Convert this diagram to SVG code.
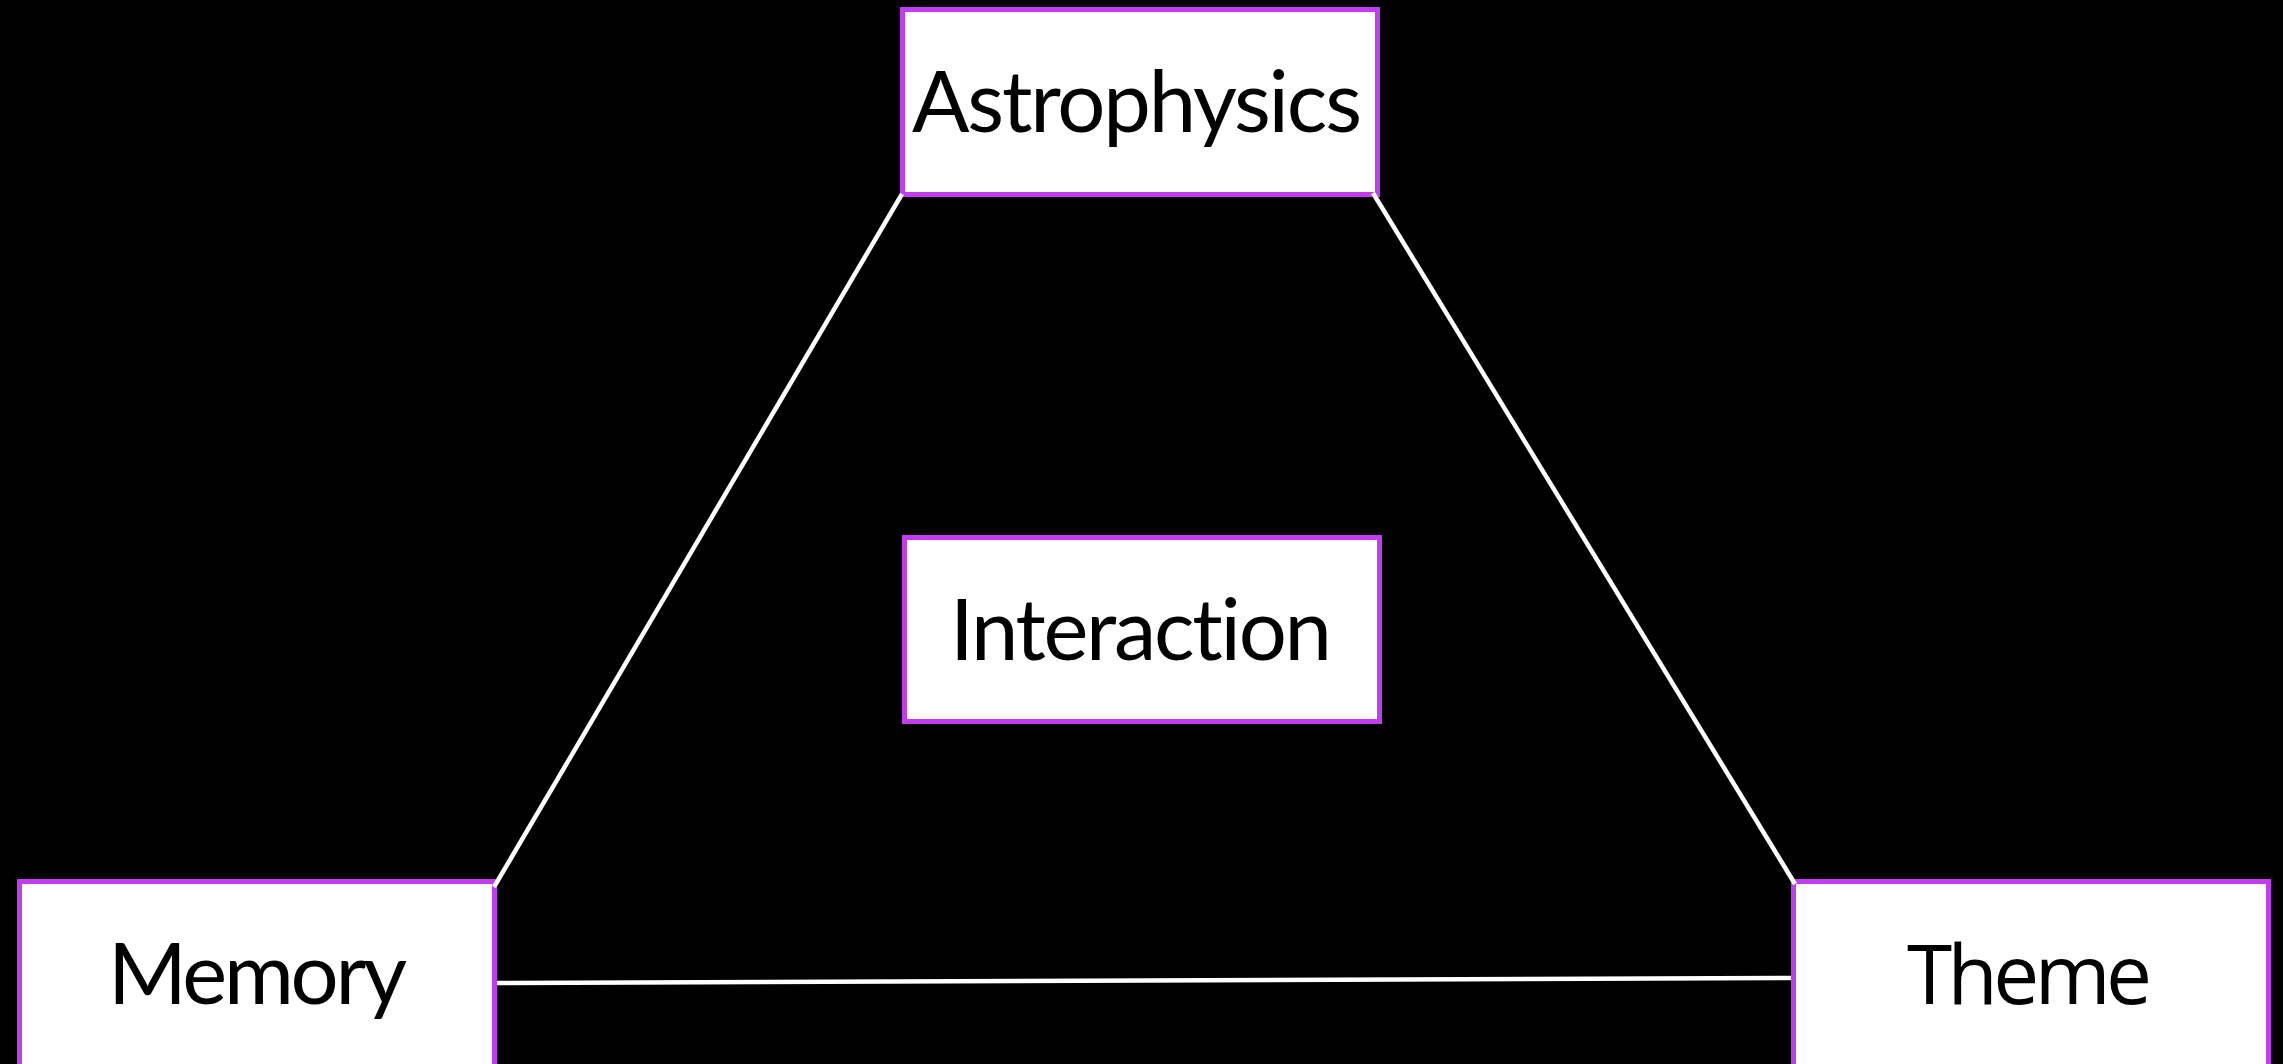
<svg xmlns="http://www.w3.org/2000/svg" width="2283" height="1064" viewBox="0 0 2283 1064">
<style>
.box{fill:#ffffff;stroke:#c03ef0;stroke-width:5}
.lbl{font-family:Lato,"Open Sans","Liberation Sans",sans-serif;font-size:85px;fill:#000000;text-anchor:middle;font-variant-ligatures:none;font-feature-settings:"liga" 0,"clig" 0}
.lbl2{font-family:"Open Sans","Noto Sans","Liberation Sans",sans-serif;font-size:82px;fill:#000000;text-anchor:middle}
.edge{stroke:#ffffff;stroke-width:4.5;fill:none}
</style>
<rect x="0" y="0" width="2283" height="1064" fill="#000000"/>
<g id="node-astrophysics">
<rect class="box" x="902.5" y="9.5" width="475" height="185"/>
<text class="lbl" x="1137" y="132" textLength="450">Astrophysics</text>
</g>
<g id="node-interaction">
<rect class="box" x="904.5" y="537.5" width="475" height="184"/>
<text class="lbl" x="1141" y="660" textLength="382">Interaction</text>
</g>
<g id="node-memory">
<rect class="box" x="19.5" y="881.5" width="475" height="185"/>
<text class="lbl" x="257.5" y="1004" textLength="299">Memory</text>
</g>
<g id="node-theme">
<rect class="box" x="1793.5" y="881.5" width="475" height="185"/>
<text class="lbl2" x="2029.5" y="1004" textLength="245">Theme</text>
</g>
<g id="connectors">
<line class="edge" x1="902" y1="194" x2="494" y2="887"/>
<line class="edge" x1="1373" y1="193" x2="1795" y2="884"/>
<line class="edge" x1="497" y1="983" x2="1791" y2="978"/>
</g>
</svg>
